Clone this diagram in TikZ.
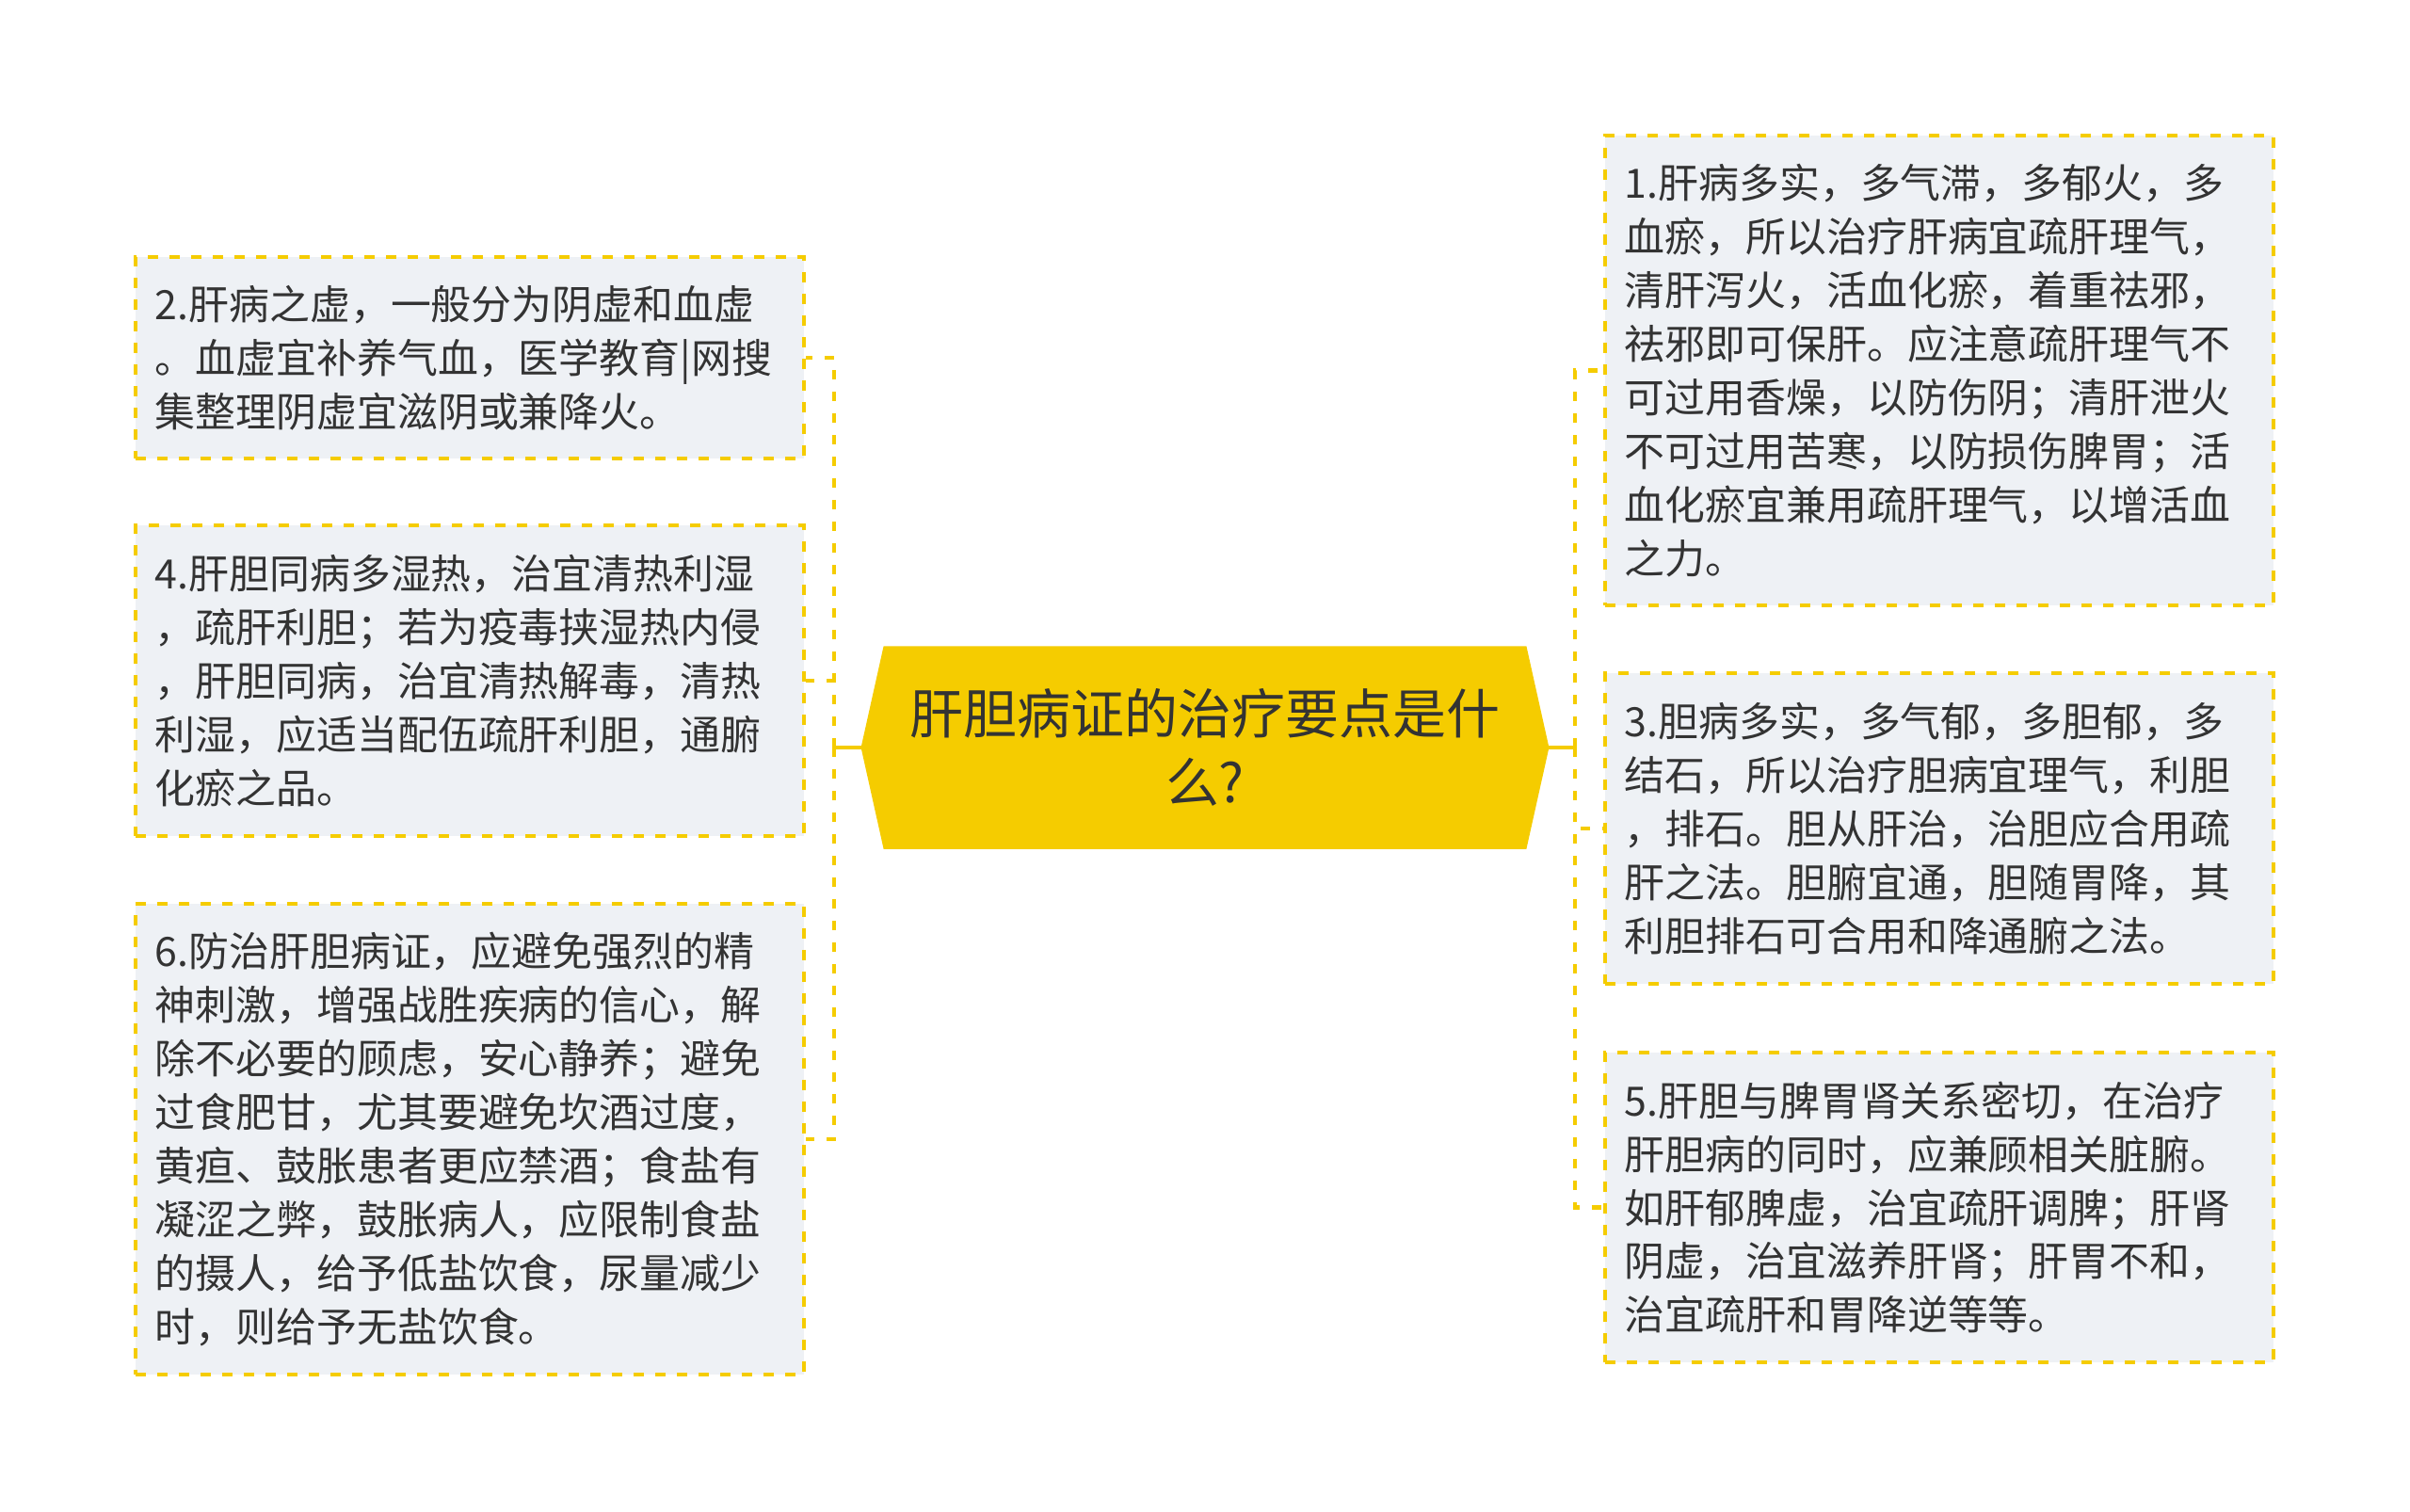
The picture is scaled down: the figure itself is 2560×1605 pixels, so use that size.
\documentclass[tikz,border=0pt]{standalone}
\usepackage{fontspec}
\setmainfont{Noto Sans CJK SC}
\usepackage{tikz}
\usetikzlibrary{backgrounds}
\definecolor{gold}{HTML}{F5CC00}
\definecolor{leaffill}{HTML}{EEF1F5}
\definecolor{ink}{HTML}{333333}
\tikzstyle{topic}=[minimum width=7.29cm,minimum height=2.14cm,align=center,text=ink,font=\fontsize{16.2pt}{20.8pt}\selectfont]
\tikzstyle{leaf}=[draw=gold,fill=leaffill,line width=1.1pt,dash pattern=on 0.11cm off 0.12cm,minimum width=7.1cm,text width=6.68cm,inner xsep=0.21cm,align=left,text=ink,font=\fontsize{12.2pt}{16.2pt}\selectfont]
\tikzstyle{link} = [draw=gold,line width=1.2pt,dash pattern=on 0.1cm off 0.13cm]
\tikzstyle{stem} = [draw=gold,line width=1.2pt]

\begin{document}
\begin{tikzpicture}[x=0.01cm,y=-0.01cm]
      \useasboundingbox (0,0) rectangle (2560,1605);
      \node[topic] (root) at (1280,794) {肝胆病证的治疗要点是什\\么?};
      \begin{scope}[on background layer]
        \fill[gold] ([xshift=0.24cm]root.north west) -- ([xshift=-0.24cm]root.north east) -- (root.east)
          -- ([xshift=-0.24cm]root.south east) -- ([xshift=0.24cm]root.south west) -- (root.west) -- cycle;
      \end{scope}
      % left branch
      \node[leaf,minimum height=2.14cm] (b2) at (499,380) {2.肝病之虚，一般分为阴虚和血虚\\。血虚宜补养气血，医学教育|网搜\\集整理阴虚宜滋阴或兼降火。};
      \node[leaf,minimum height=3.30cm] (b4) at (499,723) {4.肝胆同病多湿热，治宜清热利湿\\，疏肝利胆；若为疫毒挟湿热内侵\\，肝胆同病，治宜清热解毒，清热\\利湿，应适当配伍疏肝利胆，通腑\\化瘀之品。};
      \node[leaf,minimum height=5.00cm] (b6) at (499,1210) {6.防治肝胆病证，应避免强烈的精\\神刺激，增强战胜疾病的信心，解\\除不必要的顾虑，安心静养；避免\\过食肥甘，尤其要避免坎酒过度，\\黄疸、鼓胀患者更应禁酒；食盐有\\凝涩之弊，鼓胀病人，应限制食盐\\的摄人，给予低盐饮食，尿量减少\\时，则给予无盐饮食。};
      % right branch
      \node[leaf,minimum height=4.99cm] (b1) at (2060,393.5) {1.肝病多实，多气滞，多郁火，多\\血瘀，所以治疗肝病宜疏肝理气，\\清肝泻火，活血化瘀，着重祛邪，\\祛邪即可保肝。应注意疏肝理气不\\可过用香燥，以防伤阴；清肝泄火\\不可过用苦寒，以防损伤脾胃；活\\血化瘀宜兼用疏肝理气，以增活血\\之力。};
      \node[leaf,minimum height=3.30cm] (b3) at (2060,880) {3.胆病多实，多气郁，多胆郁，多\\结石，所以治疗胆病宜理气，利胆\\，排石。胆从肝治，治胆应合用疏\\肝之法。胆腑宜通，胆随胃降，其\\利胆排石可合用和降通腑之法。};
      \node[leaf,minimum height=3.29cm] (b5) at (2060,1282.5) {5.肝胆与脾胃肾关系密切，在治疗\\肝胆病的同时，应兼顾相关脏腑。\\如肝郁脾虚，治宜疏肝调脾；肝肾\\阴虚，治宜滋养肝肾；肝胃不和，\\治宜疏肝和胃降逆等等。};
      \coordinate (lhub) at (886,794);
      \coordinate (rhub) at (1673,794);
      \draw[stem] (root.west) -- (lhub);
      \draw[stem] (root.east) -- (rhub);
      \draw[link] (lhub) |- (b2.east);
      \draw[link] (lhub) |- (b4.east);
      \draw[link] (lhub) |- (b6.east);
      \draw[link] (rhub) |- (b1.west);
      \draw[link] (rhub) |- (b3.west);
      \draw[link] (rhub) |- (b5.west);
\end{tikzpicture}
\end{document}
